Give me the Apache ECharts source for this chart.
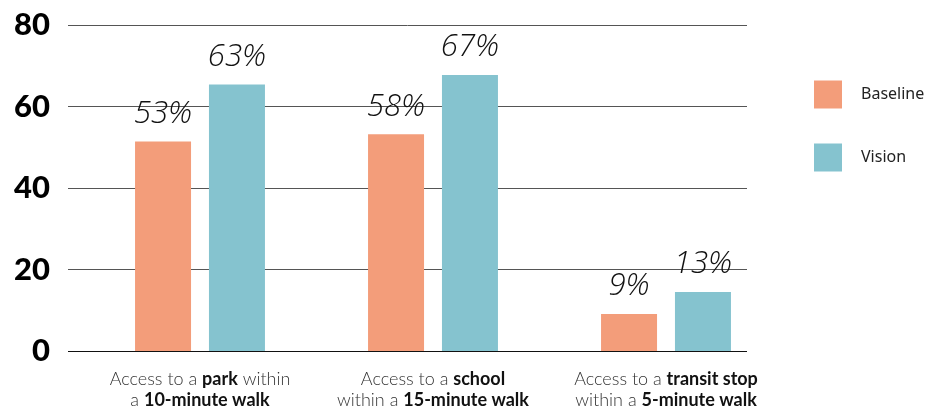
<!DOCTYPE html>
<html>
<head>
<meta charset="utf-8">
<script src="https://cdn.jsdelivr.net/npm/echarts@6/dist/echarts.min.js"></script>
<style>html,body{margin:0;padding:0;background:#fff}#c{width:933px;height:411px}</style>
</head>
<body>
<div id="c"></div>
<script>
var categories = ['park', 'school', 'transit stop'];
var categoryLabels = [
  'Access to a {b|park} within\na {b|10-minute walk}',
  'Access to a {b|school}\nwithin a {b|15-minute walk}',
  'Access to a {b|transit stop}\nwithin a {b|5-minute walk}'
];
var seriesNames = ['Baseline', 'Vision'];
var baselineValues = [51.4, 53.2, 9.1];
var visionValues = [65.4, 67.7, 14.5];
var baselineLabels = ['53%', '58%', '9%'];
var visionLabels = ['63%', '67%', '13%'];
var yTicks = [0, 20, 40, 60, 80];

var colors = ['#F39D7A', '#85C3CF'];
var chart = echarts.init(document.getElementById('c'), null, {renderer: 'canvas'});

function mkLabel(labels) {
  return {
    show: true, position: 'top', distance: 12,
    formatter: function (p) { return labels[p.dataIndex]; },
    fontFamily: 'Open Sans', fontStyle: 'italic', fontWeight: 300, fontSize: 31, color: '#111'
  };
}

var option = {
  animation: false,
  backgroundColor: '#fff',
  color: colors,
  legend: {
    orient: 'vertical', left: 809, top: 75.5, padding: 5,
    itemWidth: 28, itemHeight: 28, itemGap: 35,
    icon: 'rect',
    data: seriesNames,
    textStyle: {fontFamily: 'Noto Sans', fontSize: 16, color: '#222', padding: [0, 0, 0, 14]}
  },
  grid: [
    {left: 83.5, right: 150.5, top: 25, bottom: 59.7},
    {left: 68, right: 186, top: 25, bottom: 59.7}
  ],
  xAxis: [
    {
      type: 'category', gridIndex: 0, data: categories,
      axisLine: {show: false}, axisTick: {show: false},
      axisLabel: {
        margin: 18, interval: 0,
        formatter: function (v, i) { return categoryLabels[i]; },
        fontFamily: 'Lato', fontWeight: 300, fontSize: 18, color: '#333', lineHeight: 21,
        rich: {b: {fontFamily: 'Lato', fontWeight: 'bold', fontSize: 18, color: '#111', lineHeight: 21}}
      }
    },
    {type: 'category', gridIndex: 1, data: [''], show: false}
  ],
  yAxis: [
    {type: 'value', gridIndex: 0, min: 0, max: 80, interval: 20, show: false},
    {
      type: 'value', gridIndex: 1, min: yTicks[0], max: yTicks[yTicks.length - 1], interval: 20,
      axisLine: {show: false}, axisTick: {show: false},
      axisLabel: {margin: 18, fontFamily: 'Lato', fontWeight: 900, fontSize: 31, color: '#000'},
      splitLine: {lineStyle: {color: '#555', width: 1}}
    }
  ],
  series: [
    {
      name: seriesNames[0], type: 'bar', xAxisIndex: 0, yAxisIndex: 0,
      data: baselineValues, barWidth: 56, barGap: '32%',
      itemStyle: {color: colors[0]},
      label: mkLabel(baselineLabels)
    },
    {
      name: seriesNames[1], type: 'bar', xAxisIndex: 0, yAxisIndex: 0,
      data: visionValues, barWidth: 56, barGap: '32%',
      itemStyle: {color: colors[1]},
      label: mkLabel(visionLabels)
    },
    {
      type: 'line', xAxisIndex: 1, yAxisIndex: 1, data: [],
      markLine: {
        silent: true, symbol: 'none', label: {show: false},
        lineStyle: {color: '#111', width: 1.2, type: 'solid'},
        data: [{yAxis: 0}]
      }
    }
  ]
};
chart.setOption(option);
</script>
</body>
</html>
